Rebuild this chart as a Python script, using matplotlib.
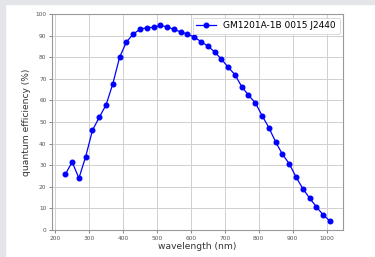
import matplotlib
matplotlib.use("Agg")
import matplotlib.pyplot as plt
from matplotlib.patches import Rectangle

# wavelength (nm) and quantum efficiency (%)
wavelength = [230, 250, 270, 290, 310, 330, 350, 370, 390, 410,
              430, 450, 470, 490, 510, 530, 550, 570, 590, 610,
              630, 650, 670, 690, 710, 730, 750, 770, 790, 810,
              830, 850, 870, 890, 910, 930, 950, 970, 990, 1010]
qe = [25.8, 31.5, 24.0, 34.0, 46.2, 52.2, 57.9, 67.7, 80.0, 87.0,
      90.7, 92.9, 93.7, 93.8, 94.7, 94.0, 92.9, 91.7, 90.7, 89.3,
      87.2, 85.2, 82.5, 79.1, 75.4, 71.9, 66.4, 62.4, 58.9, 53.0,
      47.4, 40.8, 35.1, 30.7, 24.6, 19.2, 14.8, 10.8, 7.0, 4.2]
label = "GM1201A-1B 0015 J2440"

fig = plt.figure(figsize=(3.75, 2.57), dpi=100)
fig.patch.set_facecolor("white")
# light grey strips from the screenshot edges
fig.patches.append(Rectangle((0, 0), 0.014, 1, transform=fig.transFigure,
                             color="#e3e5e8", zorder=0))
fig.patches.append(Rectangle((0, 0.984), 1, 0.016, transform=fig.transFigure,
                             color="#e3e5e8", zorder=0))

ax = fig.add_axes([0.139, 0.105, 0.776, 0.8405])
ax.plot(wavelength, qe, color="blue", marker="o", markersize=3.3,
        linewidth=0.9, label=label)

ax.set_ylim(0, 100)
ax.set_xticks(range(200, 1001, 100))
ax.set_yticks(range(0, 101, 10))
ax.grid(True, color="#d0d0d0", linewidth=0.7)
ax.set_axisbelow(True)

ax.tick_params(labelsize=4.2, colors="#555555", length=2.5, width=0.5,
               pad=1.5)
for s in ax.spines.values():
    s.set_color("#999999")
    s.set_linewidth(0.8)

ax.set_xlabel("wavelength (nm)", fontsize=6.6, color="#333333", labelpad=1)
ax.set_ylabel("quantum efficiency (%)", fontsize=6.6, color="#333333",
              labelpad=3)

leg = ax.legend(loc="upper right", fontsize=6.5, borderaxespad=0.4,
                handlelength=2.2, framealpha=1, fancybox=True)
leg.get_frame().set_linewidth(0.5)

fig.savefig("out.png", dpi=100)
